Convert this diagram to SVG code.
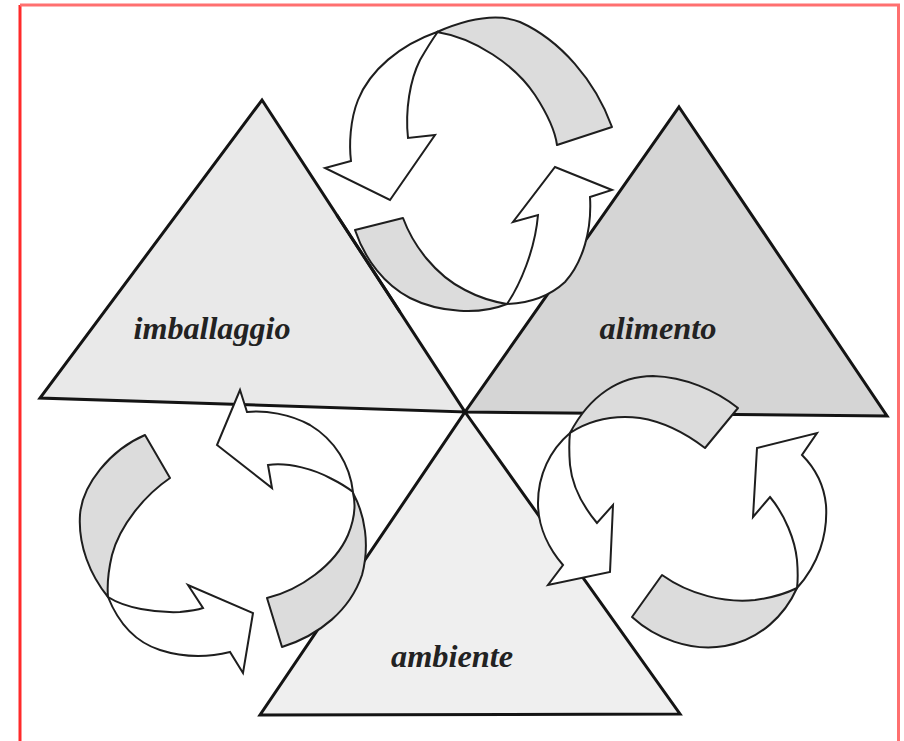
<svg xmlns="http://www.w3.org/2000/svg" width="904" height="741" viewBox="0 0 904 741">
<style>
.tri{stroke:#141414;stroke-width:3;stroke-linejoin:miter}
.band{fill:#dcdcdc;stroke:#1e1e1e;stroke-width:2;stroke-linejoin:round}
.arr{fill:#ffffff;stroke:#1e1e1e;stroke-width:2;stroke-linejoin:miter}
.edge{stroke:#141414;stroke-width:3;fill:none}
.lbl{font-family:"Liberation Serif","Times New Roman",serif;font-weight:bold;font-style:italic;font-size:32px;fill:#222;text-anchor:middle}
</style>
<rect x="0" y="0" width="904" height="741" fill="#ffffff"/>
<path d="M20,741 V5" stroke="#ff2a2a" stroke-width="3" fill="none"/>
<path d="M20,5 H898.5 V741" stroke="#ff7070" stroke-width="3" fill="none"/>
<g id="node-imballaggio">
<polygon class="tri" points="262,100 465,412 40,398" fill="#e9e9e9"/>
<text class="lbl" x="212" y="339" textLength="157" lengthAdjust="spacingAndGlyphs">imballaggio</text>
</g>
<g id="node-alimento">
<polygon class="tri" points="679,107 887,416 465,412" fill="#d5d5d5"/>
<text class="lbl" x="658" y="339" textLength="117" lengthAdjust="spacingAndGlyphs">alimento</text>
</g>
<g id="node-ambiente">
<polygon class="tri" points="465,412 680,714 260,715" fill="#efefef"/>
<text class="lbl" x="452" y="667" textLength="122" lengthAdjust="spacingAndGlyphs">ambiente</text>
</g>
<g id="connectors">
<g id="cycle-top">
<path class="band" d="M557,145 L612,127 C595,80 560,40 520,22 C495,12 465,20 437,32 C475,38 515,65 535,95 C548,115 555,130 557,145 Z"/>
<path class="arr" d="M437,32 C400,45 370,70 358,100 C350,120 349,145 351,161 L325,168 L390,200 L435,135 L408,138 C405,110 410,80 420,60 C427,48 432,40 437,33 Z"/>
<path class="band" d="M355,230 L403,218 C413,245 435,275 465,290 C480,298 495,302 507,304 C480,315 440,313 410,298 C385,285 365,260 355,230 Z"/>
<path class="arr" d="M507,304 C520,285 535,250 538,215 L513,222 L555,167 L612,190 L590,197 C592,230 583,262 565,282 C550,296 530,303 507,304 Z"/>
</g>
<g id="cycle-left">
<path class="band" d="M145,435 L170,478 C145,495 120,525 112,555 C108,572 107,585 108,597 C90,575 78,545 80,515 C82,485 110,450 145,435 Z"/>
<path class="arr" d="M108,597 C125,608 155,613 180,612 C190,611 197,610 203,608 L188,585 L253,613 L243,673 L230,652 C210,657 185,658 160,650 C135,642 118,622 108,597 Z"/>
<path class="band" d="M267,598 C300,590 335,565 348,535 C355,518 356,505 353,493 C365,515 370,545 362,575 C350,610 320,635 282,647 Z"/>
<path class="arr" d="M353,492 C350,465 335,440 310,425 C290,414 265,410 247,412 L240,390 L217,445 L272,488 L268,465 C290,462 315,470 330,478 C340,483 348,488 353,492 Z"/>
</g>
<g id="cycle-right">
<path class="band" d="M705,448 L738,408 C715,390 685,377 653,376 C620,376 590,395 570,433 C590,420 615,415 640,418 C665,422 688,435 705,448 Z"/>
<path class="arr" d="M570,433 C550,450 538,475 538,503 C538,528 550,550 563,565 L548,585 L610,572 L613,505 L597,523 C582,505 572,485 570,465 C569,452 569,442 570,433 Z"/>
<path class="band" d="M632,617 L662,575 C690,595 725,603 755,600 C770,598 785,594 797,588 C785,615 760,640 725,646 C690,652 655,638 632,617 Z"/>
<path class="arr" d="M797,588 C818,565 828,535 826,505 C824,485 815,468 802,455 L817,433 L757,448 L753,517 L770,497 C785,515 795,540 797,560 C798,572 798,580 797,588 Z"/>
</g>
</g>
<g id="edge-overlay">
<line class="edge" x1="336.8" y1="215" x2="400" y2="312"/>
</g>
</svg>
